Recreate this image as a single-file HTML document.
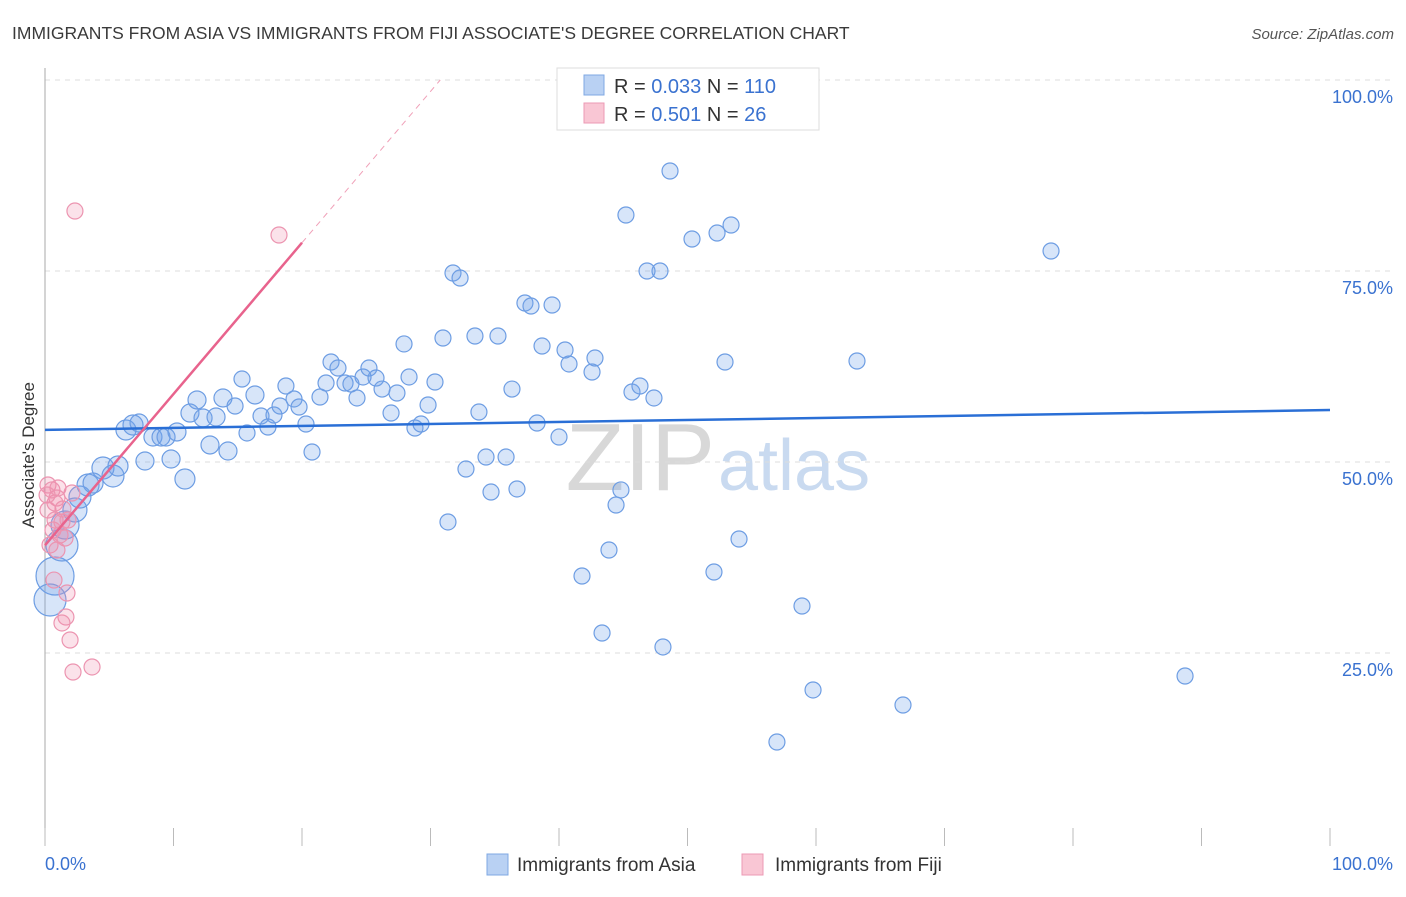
<!DOCTYPE html>
<html><head><meta charset="utf-8"><style>
body{margin:0;background:#fff;font-family:"Liberation Sans",sans-serif}
svg text{font-family:"Liberation Sans",sans-serif}
</style></head><body>
<svg id="chart" width="1406" height="892" xmlns="http://www.w3.org/2000/svg">
<text x="12" y="39" font-size="17.5" fill="#3a3a3a">IMMIGRANTS FROM ASIA VS IMMIGRANTS FROM FIJI ASSOCIATE'S DEGREE CORRELATION CHART</text>
<text x="1394" y="39" font-size="15" fill="#555" text-anchor="end" font-style="italic">Source: ZipAtlas.com</text>
<text x="715" y="490" font-size="96" fill="#d8d8d8" text-anchor="end" font-family="Liberation Serif">ZIP</text>
<text x="718" y="490" font-size="72" fill="#c9daf0">atlas</text>
<g id="grid"></g>
<g id="axes"></g>
<g id="marks"></g>
<g>
<rect x="557" y="68" width="262" height="62" fill="#fff" stroke="#ddd"/>
<rect x="584" y="75" width="20" height="20" fill="#b9d1f3" stroke="#7fa8e3"/>
<rect x="584" y="103" width="20" height="20" fill="#f9c6d4" stroke="#ec9ab4"/>
<text x="614" y="93" font-size="20" fill="#333">R = <tspan fill="#3a72d0">0.033</tspan>   N = <tspan fill="#3a72d0">110</tspan></text>
<text x="614" y="121" font-size="20" fill="#333">R =  <tspan fill="#3a72d0">0.501</tspan>   N =  <tspan fill="#3a72d0">26</tspan></text>
</g>
<g>
<rect x="487" y="854" width="21" height="21" fill="#b9d1f3" stroke="#7fa8e3"/>
<text x="517" y="871" font-size="19" fill="#333">Immigrants from Asia</text>
<rect x="742" y="854" width="21" height="21" fill="#f9c6d4" stroke="#ec9ab4"/>
<text x="775" y="871" font-size="19" fill="#333">Immigrants from Fiji</text>
</g>
<text transform="translate(34,455) rotate(-90)" font-size="17" fill="#333" text-anchor="middle">Associate's Degree</text>
</svg>
<script>
const yTicks=[25,50,75,100];
const yTickLabels=["25.0%","50.0%","75.0%","100.0%"];
const xTickLabels=["0.0%","100.0%"];
const asiaPx=[[55,576,19],[50,600,16],[62,545,16],[65,525,14],[75,510,12],[80,497,11],[88,485,11],[93,483,10],[103,468,11],[113,476,11],[118,466,10],[126,430,10],[133,425,10],[139,423,9],[145,461,9],[153,437,9],[161,437,9],[166,437,9],[171,459,9],[177,432,9],[185,479,10],[190,413,9],[197,400,9],[203,418,9],[210,445,9],[216,417,9],[223,398,9],[228,451,9],[235,406,8],[242,379,8],[247,433,8],[255,395,9],[261,416,8],[268,427,8],[274,415,8],[280,406,8],[286,386,8],[294,399,8],[299,407,8],[306,424,8],[312,452,8],[320,397,8],[326,383,8],[331,362,8],[338,368,8],[345,383,8],[351,384,8],[357,398,8],[363,377,8],[369,368,8],[376,378,8],[382,389,8],[391,413,8],[397,393,8],[404,344,8],[409,377,8],[415,428,8],[421,424,8],[428,405,8],[435,382,8],[443,338,8],[448,522,8],[453,273,8],[460,278,8],[466,469,8],[475,336,8],[479,412,8],[486,457,8],[491,492,8],[498,336,8],[506,457,8],[512,389,8],[517,489,8],[525,303,8],[531,306,8],[537,423,8],[542,346,8],[552,305,8],[559,437,8],[565,350,8],[569,364,8],[582,576,8],[592,372,8],[595,358,8],[602,633,8],[609,550,8],[616,505,8],[621,490,8],[626,215,8],[632,392,8],[640,386,8],[647,271,8],[654,398,8],[660,271,8],[663,647,8],[670,171,8],[692,239,8],[714,572,8],[717,233,8],[725,362,8],[731,225,8],[739,539,8],[802,606,8],[813,690,8],[777,742,8],[857,361,8],[903,705,8],[1051,251,8],[1185,676,8]];
const fijiPx=[[75,211],[279,235],[48,485],[52,490],[57,498],[48,510],[55,520],[62,522],[68,520],[53,530],[60,535],[65,538],[50,545],[57,550],[54,580],[67,593],[66,617],[62,623],[70,640],[73,672],[92,667],[58,488],[72,493],[63,509],[55,503],[47,495]];
// convert read pixel positions into data values (percent)
const asiaX=asiaPx.map(p=>+((p[0]-45)/12.85).toFixed(2));
const asiaY=asiaPx.map(p=>+((844-p[1])/7.64).toFixed(2));
const asiaSize=asiaPx.map(p=>p[2]);
const fijiX=fijiPx.map(p=>+((p[0]-45)/12.85).toFixed(2));
const fijiY=fijiPx.map(p=>+((844-p[1])/7.64).toFixed(2));
const asiaTrend=[54.2,56.8];
const fijiTrend=[39.1,78.7];
const X=v=>45+v*12.85, Y=v=>844-v*7.64;
const NS="http://www.w3.org/2000/svg";
function mk(tag,attrs,parent){const e=document.createElementNS(NS,tag);for(const k in attrs)e.setAttribute(k,attrs[k]);document.getElementById(parent).appendChild(e);return e;}
yTicks.forEach((t,i)=>{
 const g=mk('line',{x1:45,x2:1394,y1:Y(t),y2:Y(t),stroke:'#ddd','stroke-dasharray':'5,5'},'grid');
 
 
 const l=mk('text',{x:1393,y:Y(t)+23,'font-size':18,fill:'#3a72d0','text-anchor':'end'},'axes');
 l.textContent=yTickLabels[i];
 
 
});
const ya=mk('line',{x1:45,x2:45,y1:68,y2:846,stroke:'#aaa'},'axes');


for(let i=0;i<=10;i++){
 const t=mk('line',{x1:X(i*10),x2:X(i*10),y1:828,y2:846,stroke:'#bbb'},'axes');
 
 
}
const x0=mk('text',{x:45,y:870,'font-size':18,fill:'#3a72d0'},'axes');x0.textContent=xTickLabels[0];


const x1=mk('text',{x:1393,y:870,'font-size':18,fill:'#3a72d0','text-anchor':'end'},'axes');x1.textContent=xTickLabels[1];


asiaX.forEach((v,i)=>{
 const c=mk('circle',{cx:X(v),cy:Y(asiaY[i]),r:asiaSize[i],fill:'rgba(110,160,235,0.28)',stroke:'#6d9de3','stroke-width':1.2},'marks');
 
 
});
fijiX.forEach((v,i)=>{
 const c=mk('circle',{cx:X(v),cy:Y(fijiY[i]),r:8,fill:'rgba(240,140,170,0.25)',stroke:'#ec94b0','stroke-width':1.2},'marks');
 
 
});
const at=mk('line',{x1:X(0),y1:Y(asiaTrend[0]),x2:X(100),y2:Y(asiaTrend[1]),stroke:'#2a6fd6','stroke-width':2.5},'marks');


const slope=(fijiTrend[1]-fijiTrend[0])/20;
const ft=mk('line',{x1:X(0),y1:Y(fijiTrend[0]),x2:X(20),y2:Y(fijiTrend[1]),stroke:'#e8638d','stroke-width':2.5},'marks');


const xe=(100-fijiTrend[0])/slope;
const fd=mk('line',{x1:X(20),y1:Y(fijiTrend[1]),x2:X(xe),y2:Y(100),stroke:'#f0a0b8','stroke-width':1,'stroke-dasharray':'6,5'},'marks');


</script>
</body></html>
